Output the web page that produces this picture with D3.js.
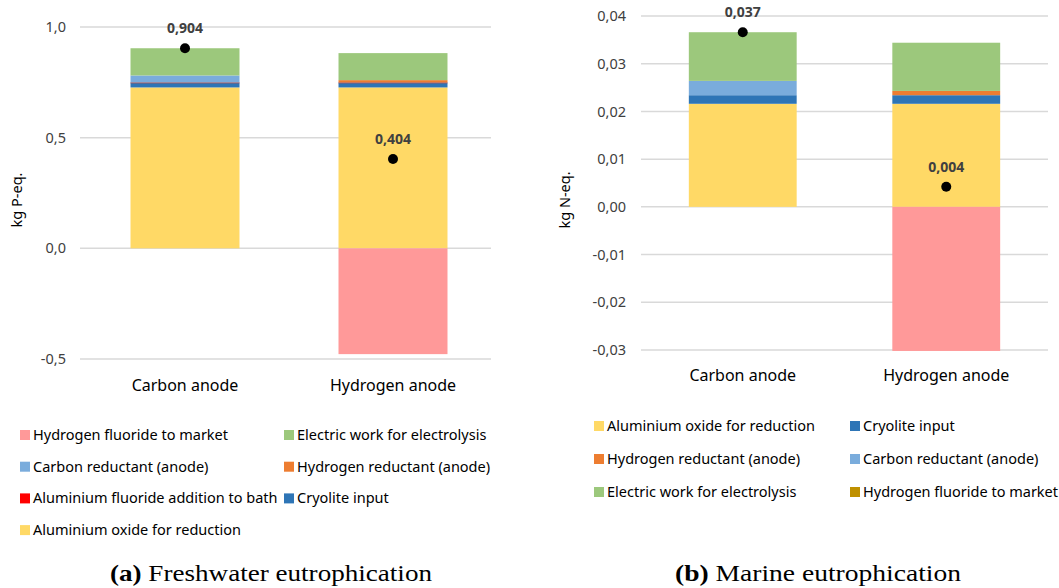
<!DOCTYPE html>
<html>
<head>
<meta charset="utf-8">
<script src="https://cdn.jsdelivr.net/npm/d3@7"></script>
<style>
  body { margin: 0; background: #fff; }
  svg text { font-family: "Noto Sans", "Open Sans", sans-serif; }
</style>
</head>
<body>
<svg id="chart" width="1059" height="588"></svg>
<script>
const categories = ["Carbon anode", "Hydrogen anode"]

// Freshwater eutrophication, kg P-eq.
const fwSeries = [
  { name: "Aluminium oxide for reduction", color: "#ffd966", values: [0.727, 0.727] },
  { name: "Cryolite input", color: "#2e75b6", values: [0.022, 0.022] },
  { name: "Aluminium fluoride addition to bath", color: "#c0504d", values: [0.001, 0.001] },
  { name: "Hydrogen reductant (anode)", color: "#ed7d31", values: [0, 0.010] },
  { name: "Carbon reductant (anode)", color: "#7aacdc", values: [0.031, 0] },
  { name: "Electric work for electrolysis", color: "#9cc87c", values: [0.123, 0.122] },
  { name: "Hydrogen fluoride to market", color: "#ff9999", values: [0, -0.478] }
]
const fwTotals = [0.904, 0.404]
const fwTicks = [-0.5, 0, 0.5, 1.0]
const fwLegend = [
  ["Hydrogen fluoride to market", "#ff9999"], ["Electric work for electrolysis", "#9cc87c"],
  ["Carbon reductant (anode)", "#7aacdc"], ["Hydrogen reductant (anode)", "#ed7d31"],
  ["Aluminium fluoride addition to bath", "#ff0000"], ["Cryolite input", "#2e75b6"],
  ["Aluminium oxide for reduction", "#ffd966"]
]

// Marine eutrophication, kg N-eq.
const meSeries = [
  { name: "Aluminium oxide for reduction", color: "#ffd966", values: [0.0216, 0.0216] },
  { name: "Cryolite input", color: "#2e75b6", values: [0.0018, 0.0018] },
  { name: "Hydrogen reductant (anode)", color: "#ed7d31", values: [0, 0.0009] },
  { name: "Carbon reductant (anode)", color: "#7aacdc", values: [0.0030, 0] },
  { name: "Electric work for electrolysis", color: "#9cc87c", values: [0.0102, 0.0101] },
  { name: "Hydrogen fluoride to market", color: "#ff9999", values: [0, -0.0302] }
]
const meTotals = [0.037, 0.004]
const meTicks = [-0.03, -0.02, -0.01, 0, 0.01, 0.02, 0.03, 0.04]
const meLegend = [
  ["Aluminium oxide for reduction", "#ffd966"], ["Cryolite input", "#2e75b6"],
  ["Hydrogen reductant (anode)", "#ed7d31"], ["Carbon reductant (anode)", "#7aacdc"],
  ["Electric work for electrolysis", "#9cc87c"], ["Hydrogen fluoride to market", "#bf9000"]
]

const svg = d3.select("#chart")
const comma = (digits) => (v) => d3.format(`.${digits}f`)(v).replace(".", ",").replace("\u2212", "-")

function panel(cfg) {
  const g = svg.append("g")

  const y = d3.scaleLinear().domain(cfg.domain).range(cfg.yRange)
  const x = d3.scaleBand().domain(categories).range(cfg.xRange)
    .paddingInner(cfg.padding).paddingOuter(cfg.padding / 2)

  // Gitter
  g.selectAll(".grid")
    .data(cfg.ticks)
    .enter().append("line")
    .attr("x1", cfg.gridX[0]).attr("x2", cfg.gridX[1])
    .attr("y1", d => y(d)).attr("y2", d => y(d))
    .style("stroke", "#d9d9d9").style("stroke-width", 1.5)

  // Achse links, nur Beschriftung
  const axis = g.append("g")
    .attr("transform", `translate(${cfg.gridX[0]},0)`)
    .call(d3.axisLeft(y).tickValues(cfg.ticks).tickFormat(comma(cfg.digits)).tickSize(0).tickPadding(cfg.tickPad))
  axis.select(".domain").remove()
  axis.selectAll("text").style("font-size", "14.5px").style("fill", "#404040").style("font-family", "Noto Sans")

  // Gestapelte Balken, positiv und negativ getrennt
  categories.forEach((cat, i) => {
    let pos = 0, neg = 0
    cfg.series.forEach(s => {
      const v = s.values[i]
      if (!v) return
      let y0, y1
      if (v > 0) { y0 = pos; y1 = pos + v; pos = y1 }
      else { y0 = neg + v; y1 = neg; neg = y0 }
      g.append("rect")
        .attr("x", x(cat))
        .attr("width", x.bandwidth())
        .attr("y", y(y1))
        .attr("height", Math.max(1, y(y0) - y(y1)))
        .attr("fill", s.color)
    })
  })

  // Nettowerte
  g.selectAll(".dot")
    .data(cfg.totals)
    .enter().append("circle")
    .attr("cx", (d, i) => x(categories[i]) + x.bandwidth() / 2)
    .attr("cy", (d, i) => y(cfg.dotValues[i]))
    .attr("r", 5)
    .attr("fill", "#000")

  g.selectAll(".lbl")
    .data(cfg.totals)
    .enter().append("text")
    .attr("x", (d, i) => x(categories[i]) + x.bandwidth() / 2)
    .attr("y", (d, i) => y(cfg.dotValues[i]) - 15)
    .attr("text-anchor", "middle")
    .style("font-size", "14px").style("font-weight", "bold").style("fill", "#404040")
    .text(d => comma(3)(d))

  // Kategorien
  g.selectAll(".cat")
    .data(categories)
    .enter().append("text")
    .attr("x", d => x(d) + x.bandwidth() / 2)
    .attr("y", cfg.catY)
    .attr("text-anchor", "middle")
    .style("font-size", "16px").style("fill", "#000")
    .text(d => d)

  g.append("text")
    .attr("transform", `translate(${cfg.titleX},${cfg.titleY}) rotate(-90)`)
    .attr("text-anchor", "middle")
    .style("font-size", "14.5px").style("fill", "#000")
    .text(cfg.title)

  // Legende
  const leg = g.selectAll(".leg")
    .data(cfg.legend)
    .enter().append("g")
    .attr("transform", (d, i) => `translate(${cfg.legX[i % 2]},${cfg.legY + Math.floor(i / 2) * cfg.legStep})`)
  leg.append("rect").attr("x", 0).attr("y", -5).attr("width", 10).attr("height", 10).attr("fill", d => d[1])
  leg.append("text").attr("x", 13).attr("y", 5)
    .style("font-size", "14.5px").style("fill", "#000")
    .text(d => d[0])

  // Bildunterschrift
  const cap = g.append("text")
    .attr("x", cfg.capX).attr("y", 581)
    .attr("text-anchor", "middle")
    .attr("textLength", cfg.capLen)
    .attr("lengthAdjust", "spacingAndGlyphs")
    .style("font-family", "'Liberation Serif', 'DejaVu Serif', serif")
    .style("font-size", "23px")
  cap.append("tspan").style("font-weight", "bold").text(cfg.capTag)
  cap.append("tspan").text("  " + cfg.caption)
}

const netFw = categories.map((c, i) => d3.sum(fwSeries, s => s.values[i]))
const netMe = categories.map((c, i) => d3.sum(meSeries, s => s.values[i]))

panel({
  series: fwSeries, totals: fwTotals, dotValues: netFw, ticks: fwTicks, digits: 1,
  domain: [-0.5, 1.0], yRange: [359, 27], xRange: [81, 497], padding: 0.476,
  gridX: [80, 491], tickPad: 14, catY: 391, title: "kg P-eq.", titleX: 22, titleY: 200,
  legend: fwLegend, legX: [20, 284], legY: 435, legStep: 31.7,
  capX: 271, capLen: 322, capTag: "(a)", caption: "Freshwater eutrophication"
})

panel({
  series: meSeries, totals: meTotals, dotValues: netMe, ticks: meTicks, digits: 2,
  domain: [-0.03, 0.04], yRange: [350, 16], xRange: [641, 1048], padding: 0.47,
  gridX: [641, 1048], tickPad: 15, catY: 381, title: "kg N-eq.", titleX: 570, titleY: 200,
  legend: meLegend, legX: [594, 850], legY: 426, legStep: 33,
  capX: 818, capLen: 286, capTag: "(b)", caption: "Marine eutrophication"
})
</script>
</body>
</html>
